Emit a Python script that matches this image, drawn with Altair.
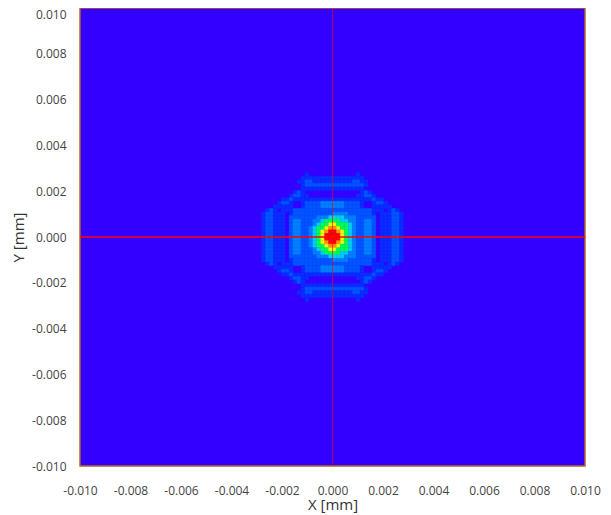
import altair as alt
import pandas as pd

GRID_N = 128
GRID_FIRST = 46
LIMIT = 0.01
TICKS = [-0.010, -0.008, -0.006, -0.004, -0.002, 0.0, 0.002, 0.004, 0.006, 0.008, 0.010]
LEVEL_COLORS = ["#0a2cff", "#0055ff", "#0080ff", "#00d0f0", "#00ff50", "#e8ff00", "#ff9400", "#ff0000"]

# Intensity levels, top row first (0 = background)
ROWS = [
    "000000000001000000000000100000000000",
    "000000000011111111111111110000000000",
    "000000000112211111111112211000000000",
    "000000000012222222222222221000000000",
    "000000000011111111111111110000000000",
    "000000001210000000000000012100000000",
    "000000012211000000000000112210000000",
    "000001121111111111111111111121100000",
    "000012210012222333333222210012210000",
    "000111110012222333333222210011111000",
    "012101112222222222222222222211101210",
    "122111012222222222333322222210111221",
    "122111022222223334444333222220111221",
    "122111023322233455554433223320111221",
    "122111023322234556655543223320111221",
    "122111023322345567765543223320111221",
    "122111023322345678876543223320111221",
    "122111023322345688886543223320111221",
    "122111023322345688886543223320111221",
    "122111023322345678876543223320111221",
    "122111023322345567765543223320111221",
    "122111023322234556655543223320111221",
    "122111023322233455554433223320111221",
    "122111022222223334444333222220111221",
    "122111012222222222333322222210111221",
    "012101112222222222222222222211101210",
    "000111110012222333333222210011111000",
    "000012210012222333333222210012210000",
    "000001121111111111111111111121100000",
    "000000012211000000000000112210000000",
    "000000001210000000000000012100000000",
    "000000000011111111111111110000000000",
    "000000000012222222222222221000000000",
    "000000000112211111111112211000000000",
    "000000000011111111111111110000000000",
    "000000000001000000000000100000000000",
]

step = 2 * LIMIT / GRID_N
records = []
for ri, row in enumerate(ROWS):
    for ci, ch in enumerate(row):
        if ch != "0":
            x0 = -LIMIT + (GRID_FIRST + ci) * step
            ytop = LIMIT - (GRID_FIRST + ri) * step
            records.append({"x": x0, "x2": x0 + step, "y": ytop, "y2": ytop - step, "level": int(ch)})
cells = pd.DataFrame(records)

xs = alt.Scale(domain=[-LIMIT, LIMIT], nice=False, zero=False)
ys = alt.Scale(domain=[-LIMIT, LIMIT], nice=False, zero=False)

LABEL = "(datum.value < 0 ? '-' : '') + format(abs(datum.value), '.3f')"

x_axis = alt.Axis(values=TICKS, labelExpr=LABEL, grid=False, ticks=False, domain=False,
                  labelPadding=19, labelFontSize=12, labelColor="#444444", labelFont="Open Sans",
                  title="X [mm]", titleFont="Open Sans", titleFontSize=15, titleFontWeight="normal",
                  titleColor="#333333", titlePadding=1, labelFlush=False, labelOverlap=False)
y_axis = alt.Axis(values=TICKS, labelExpr=LABEL, grid=False, ticks=False, domain=False,
                  labelPadding=14, labelFontSize=12, labelColor="#444444", labelFont="Open Sans",
                  labelOffset=alt.expr("datum.value > 0.0099 ? 6 : 0"),
                  title="Y [mm]", titleFont="Open Sans", titleFontSize=15, titleFontWeight="normal",
                  titleColor="#333333", titlePadding=5, labelFlush=False, labelOverlap=False)

X = alt.X("x:Q", scale=xs, axis=x_axis)
Y = alt.Y("y:Q", scale=ys, axis=y_axis)

bg = alt.Chart(pd.DataFrame({"x": [-LIMIT], "x2": [LIMIT], "y": [-LIMIT], "y2": [LIMIT]})).mark_rect(
    color="#3300ff", stroke="#b5651d", strokeWidth=1.5
).encode(x=X, x2="x2:Q", y=Y, y2="y2:Q")

levels = list(range(1, 9))
heat = alt.Chart(cells).mark_rect(strokeWidth=0.4).encode(
    x=X,
    x2="x2:Q",
    y=Y,
    y2="y2:Q",
    color=alt.Color("level:O", scale=alt.Scale(domain=levels, range=LEVEL_COLORS), legend=None),
    stroke=alt.Color("level:O", scale=alt.Scale(domain=levels, range=LEVEL_COLORS), legend=None),
)

hline = alt.Chart(pd.DataFrame({"x": [-LIMIT], "x2": [LIMIT], "y": [0.0]})).mark_rule(
    color="#ff0000", strokeWidth=1.5
).encode(x=X, x2="x2:Q", y=Y)
vline = alt.Chart(pd.DataFrame({"x": [0.0], "y": [-LIMIT], "y2": [LIMIT]})).mark_rule(
    color="#ff0000", strokeWidth=1, opacity=0.6
).encode(x=X, y=Y, y2="y2:Q")

chart = (bg + heat + hline + vline).properties(
    width=505, height=458,
    padding={"left": 72, "top": 0, "right": 18, "bottom": 49},
    autosize=alt.AutoSizeParams(type="none"),
    background="#ffffff",
).configure_view(stroke=None)

chart.save("out.html", embed_options={"renderer": "svg", "actions": False})
